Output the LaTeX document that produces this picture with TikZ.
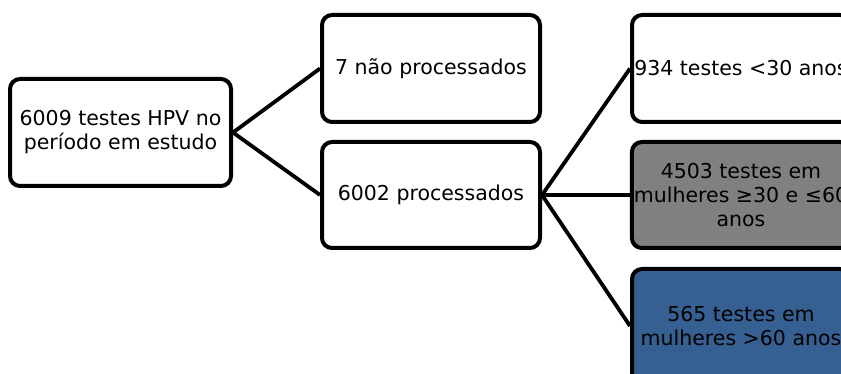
\documentclass[tikz,border=0pt]{standalone}
\usepackage{fontspec}
\setmainfont{DejaVu Sans}
\definecolor{boxgray}{HTML}{808080}
\definecolor{boxblue}{HTML}{366092}
\begin{document}
\begin{tikzpicture}[x=1pt,y=-1pt,
  box/.style={draw=black, line width=4pt, rounded corners=10pt, fill=white,
    minimum width=218pt, minimum height=107pt, align=center, inner sep=2pt,
    font=\fontsize{20.5}{24}\selectfont, text=black},
  conn/.style={draw=black, line width=3.8pt}]
\clip (0,0) rectangle (841,374);
\fill[white] (0,0) rectangle (841,374);
\node[box, minimum width=221pt] (A) at (120.5,132.5) {6009 testes HPV no\\período em estudo};
\node[box] (B) at (431,68.5) {7 não processados};
\node[box, minimum height=106pt] (C) at (431,195) {6002 processados};
\node[box] (D) at (741,68.5) {934 testes <30 anos};
\node[box, fill=boxgray, minimum height=106pt] (E) at (741,195) {4503 testes em\\mulheres ≥30 e ≤60\\anos};
\node[box, fill=boxblue, minimum height=114pt] (F) at (741,326) {565 testes em\\mulheres >60 anos};
\draw[conn] (A.east) -- (B.west);
\draw[conn] (A.east) -- (C.west);
\draw[conn] (C.east) -- (D.west);
\draw[conn] (C.east) -- (E.west);
\draw[conn] (C.east) -- (F.west);
\end{tikzpicture}
\end{document}
